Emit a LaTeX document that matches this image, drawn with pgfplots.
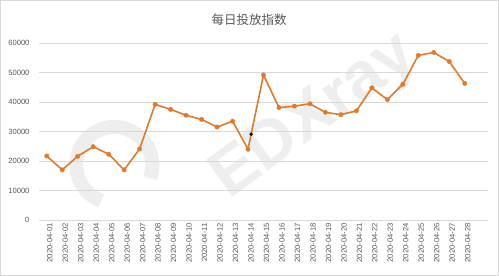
\documentclass[border=0pt]{standalone}
\usepackage{pgfplots}
\pgfplotsset{compat=1.18}
\usepackage{fontspec}
\setmainfont{Liberation Sans}
\newfontfamily\cjk{Noto Sans CJK SC}
\definecolor{lineorange}{HTML}{E27A2E}
\definecolor{gridgray}{HTML}{D9D9D9}
\definecolor{textgray}{HTML}{595959}
\definecolor{wmgray}{HTML}{EEEEEE}

\pgfplotstableread{
idx value
0  21700
1  17000
2  21600
3  24850
4  22300
5  17000
6  24100
7  39200
8  37500
9  35500
10 34100
11 31500
12 33500
13 24000
14 49150
15 38100
16 38600
17 39400
18 36500
19 35700
20 37000
21 44800
22 40800
23 46000
24 55800
25 56800
26 53700
27 46300
}\dailyindex

\begin{document}
\begin{tikzpicture}[x=1pt,y=1pt]
  % chart area and its frame
  \path[fill=white] (0,0) rectangle (499,276);
  \draw[gridgray, line width=0.8pt] (0.4,0.4) rectangle (498.6,275.6);
  % watermark
  \draw[wmgray, line width=14pt] (150,98) arc[start angle=-20, end angle=250, radius=38];
  \node[wmgray, rotate=36, font=\fontsize{66}{66}\selectfont\bfseries] at (315,158) {EDXray};
  % title
  \node[textgray, font=\cjk\fontsize{12.5}{13}\selectfont] at (249,256) {每日投放指数};
  \begin{axis}[
    at={(39pt,56pt)}, anchor=south west,
    scale only axis, width=449pt, height=177pt,
    xmin=-0.5, xmax=28.5, ymin=0, ymax=60000,
    xtick={0,...,27},
    xticklabels={2020-04-01,2020-04-02,2020-04-03,2020-04-04,2020-04-05,2020-04-06,2020-04-07,2020-04-08,2020-04-09,2020-04-10,2020-04-11,2020-04-12,2020-04-13,2020-04-14,2020-04-15,2020-04-16,2020-04-17,2020-04-18,2020-04-19,2020-04-20,2020-04-21,2020-04-22,2020-04-23,2020-04-24,2020-04-25,2020-04-26,2020-04-27,2020-04-28},
    ytick={0,10000,...,60000},
    scaled y ticks=false,
    /pgf/number format/.cd, 1000 sep={}, assume math mode=true, /pgfplots/.cd,
    ymajorgrids, grid style={gridgray, line width=0.8pt},
    axis line style={draw=none},
    major tick length=0pt,
    tick label style={textgray, font=\fontsize{7.6}{8}\selectfont},
    xticklabel style={rotate=90, anchor=east, yshift=-3pt},
    yticklabel style={xshift=-6pt},
    clip=false,
  ]
    \addplot[lineorange, line width=1.6pt, mark=*, mark size=2.2pt,
             mark options={fill=lineorange, draw=lineorange, line width=0.4pt}]
      table[x=idx, y=value] {\dailyindex};
    \addplot[only marks, black, mark=*, mark size=1.5pt] coordinates {(13.2,29100)};
  \end{axis}
\end{tikzpicture}
\end{document}
